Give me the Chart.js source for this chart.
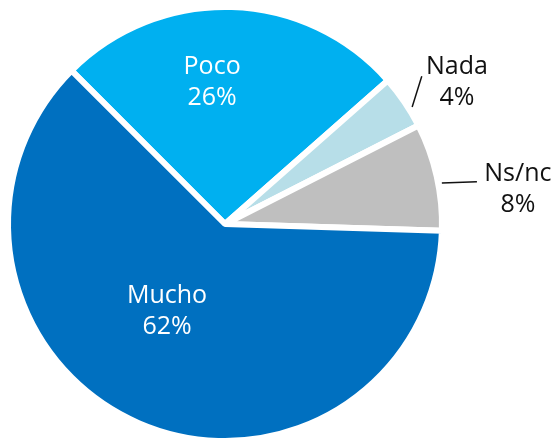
<!DOCTYPE html>
<html>
<head>
<meta charset="utf-8">
<script src="https://cdn.jsdelivr.net/npm/chart.js@4/dist/chart.umd.min.js"></script>
<style>
    html, body { margin: 0; padding: 0; background: #fff; overflow: hidden; }
    #wrap { width: 555px; height: 450px; position: relative; }
</style>
</head>
<body>
<div id="wrap"><canvas id="myChart"></canvas></div>
<script>
// data
const categories = ['Poco', 'Nada', 'Ns/nc', 'Mucho'],
    shares = [26, 4, 8, 62];

const sliceColors = ['#00B0F0', '#B7DEE8', '#BFBFBF', '#0070C0'],
    textColors = ['#ffffff', '#111111', '#111111', '#ffffff'];

// where each label sits, relative to its slice (angle shift in degrees, radius factor)
const labelPlace = [
    { shift: -7.0, r: 0.655 },
    { shift: 2.8, r: 1.252, leader: [[2.2, 1.017], [-2.7, 1.134]] },
    { shift: 5.9, r: 1.359, leader: [[1.9, 1.017], [3.1, 1.177]] },
    { shift: 10.1, r: 0.484 }
];

const deg = Math.PI / 180;

// simple label plugin, draws name + percent
const sliceLabels = {
    id: 'sliceLabels',
    afterDatasetsDraw(chart) {
        const ctx = chart.ctx,
            meta = chart.getDatasetMeta(0);
        ctx.save();
        ctx.font = '25px "Open Sans", sans-serif';
        ctx.textAlign = 'center';
        ctx.textBaseline = 'middle';
        meta.data.forEach((arc, i) => {
            const p = arc.getProps(['x', 'y', 'startAngle', 'endAngle', 'outerRadius'], true),
                mid = (p.startAngle + p.endAngle) / 2,
                place = labelPlace[i];
            const polar = (shift, f) => [
                p.x + Math.cos(mid + shift * deg) * p.outerRadius * f,
                p.y + Math.sin(mid + shift * deg) * p.outerRadius * f
            ];
            const [lx, ly] = polar(place.shift, place.r);
            ctx.fillStyle = textColors[i];
            ctx.fillText(categories[i], lx, ly - 15.5);
            ctx.fillText(shares[i] + '%', lx, ly + 15.5);
            if (place.leader) {
                const a = polar(place.leader[0][0], place.leader[0][1]),
                    b = polar(place.leader[1][0], place.leader[1][1]);
                ctx.strokeStyle = '#111111';
                ctx.lineWidth = 1.5;
                ctx.beginPath();
                ctx.moveTo(a[0], a[1]);
                ctx.lineTo(b[0], b[1]);
                ctx.stroke();
            }
        });
        ctx.restore();
    }
};

const ctx = document.getElementById('myChart');
const myChart = new Chart(ctx, {
    type: 'pie',
    data: {
        labels: categories,
        datasets: [{
            data: shares,
            backgroundColor: sliceColors,
            borderColor: '#ffffff',
            borderWidth: 6
        }]
    },
    options: {
        responsive: true,
        maintainAspectRatio: false,
        animation: false,
        rotation: -45,
        layout: { padding: { left: 5, top: 4, right: 110, bottom: 6 } },
        plugins: {
            legend: { display: false },
            tooltip: { enabled: false }
        }
    },
    plugins: [sliceLabels]
});
</script>
</body>
</html>
